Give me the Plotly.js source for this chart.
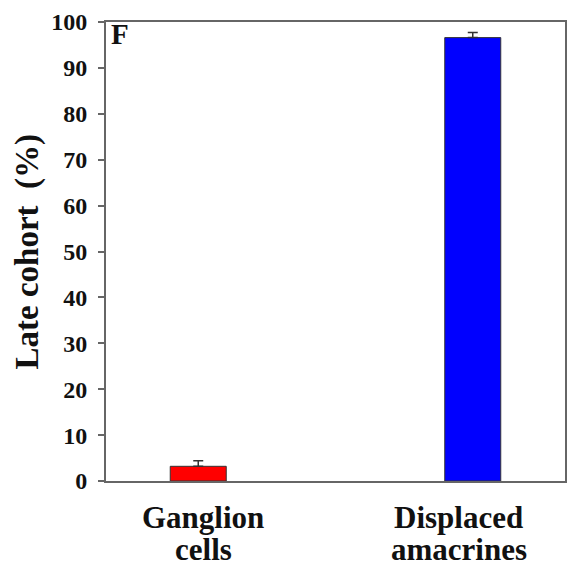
<!DOCTYPE html>
<html>
<head>
<meta charset="utf-8">
<script src="https://cdn.plot.ly/plotly-3.0.1.min.js"></script>
<style>html,body{margin:0;padding:0;background:#fff;}#chart{width:567px;height:568px;}</style>
</head>
<body>
<div id="chart"></div>
<script>
const categories = ["Ganglion cells", "Displaced amacrines"];
const labelLines = [["Ganglion", "cells"], ["Displaced", "amacrines"]];
const values = [3.2, 96.6];
const errors = [1.2, 1.1];
const barColors = ["#ff0000", "#0000ff"];
const yTicks = [0, 10, 20, 30, 40, 50, 60, 70, 80, 90, 100];
const yTitle = "Late cohort  (%)";
const panelLetter = "F";

const serif = "Liberation Serif";
const ink = "#111";

const trace = {
  type: "bar",
  x: [0, 1],
  y: values,
  width: 0.204,
  marker: {color: barColors, line: {color: "#333", width: 1}},
  error_y: {type: "data", array: errors, symmetric: false, arrayminus: [0, 0], visible: true, color: "#333", thickness: 1.5, width: 5}
};

const labelShift = [5, -14];
const annotations = [];
labelLines.forEach((lines, i) => {
  lines.forEach((txt, j) => {
    annotations.push({
      text: txt, xref: "x", yref: "paper", x: i, y: 0,
      xanchor: "center", yanchor: "middle", xshift: labelShift[i], yshift: j === 0 ? -36 : -68,
      showarrow: false, font: {family: serif, size: 31, color: ink, weight: "bold"}
    });
  });
});
annotations.push({
  text: yTitle, xref: "paper", yref: "paper", x: 0, y: 0.5, xshift: -79,
  xanchor: "center", yanchor: "middle", textangle: -90, showarrow: false,
  font: {family: serif, size: 33, color: ink, weight: "bold"}
});
annotations.push({
  text: panelLetter, xref: "paper", yref: "paper", x: 0.006, y: 1.012,
  xanchor: "left", yanchor: "top", showarrow: false,
  font: {family: serif, size: 29, color: ink, weight: "bold"}
});

const layout = {
  width: 567, height: 568,
  margin: {l: 106, r: 2, t: 22, b: 87},
  paper_bgcolor: "#fff", plot_bgcolor: "#fff",
  showlegend: false,
  xaxis: {
    range: [-0.336, 1.336],
    tickvals: [0, 1],
    ticktext: ["", ""],
    ticks: "",
    showticklabels: false,
    showgrid: false, zeroline: false,
    showline: true, linecolor: "#666", linewidth: 2, mirror: true
  },
  yaxis: {
    range: [0, 100],
    tickvals: yTicks,
    ticks: "outside", ticklen: 6, tickwidth: 2, tickcolor: "#666",
    showgrid: false, zeroline: false,
    showline: true, linecolor: "#666", linewidth: 2, mirror: true,
    tickfont: {family: serif, size: 24, color: ink, weight: "bold"},
    ticklabelstandoff: 6
  },
  annotations: annotations
};

Plotly.newPlot("chart", [trace], layout, {displayModeBar: false, staticPlot: true});
</script>
</body>
</html>
